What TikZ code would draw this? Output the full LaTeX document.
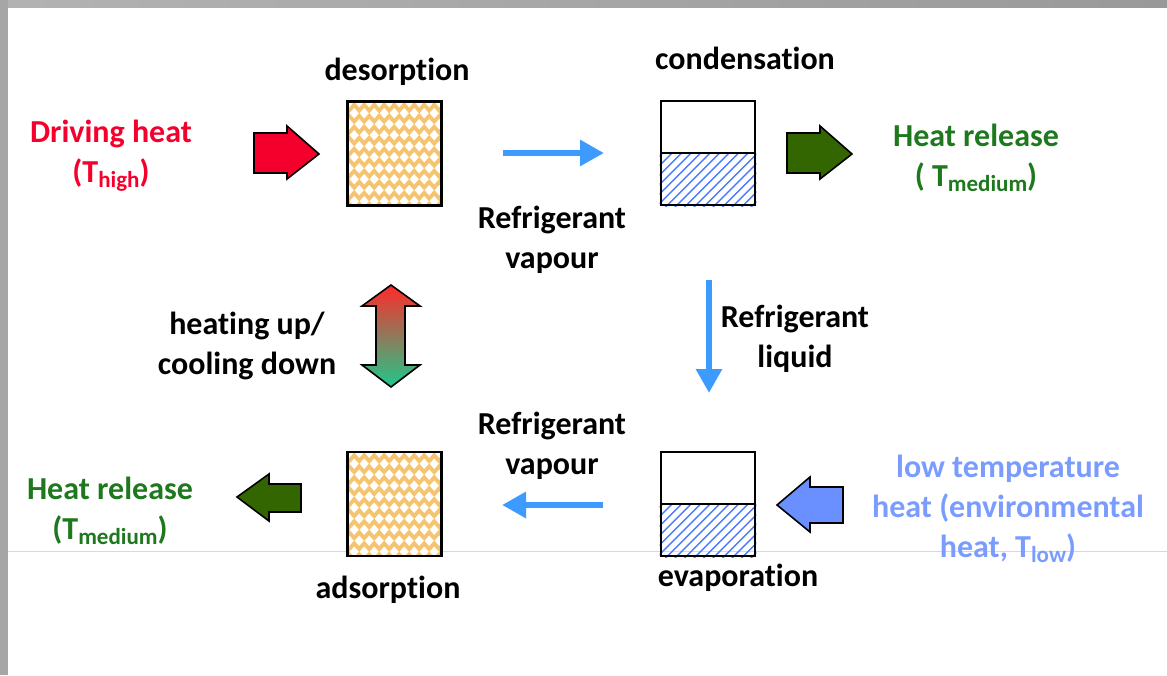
\documentclass[tikz,border=0pt]{standalone}
\usepackage{fontspec}
\setmainfont{Carlito}[Ligatures=NoCommon]
\usetikzlibrary{calc,arrows.meta}
\definecolor{hotred}{HTML}{F5002D}
\definecolor{darkgrn}{HTML}{336600}
\definecolor{txtgrn}{HTML}{1E781E}
\definecolor{liteblue}{HTML}{6A8FFF}
\definecolor{txtblue}{HTML}{7B9CFF}
\definecolor{flowblue}{HTML}{3D9BFF}
\definecolor{sorb}{HTML}{F6C46E}
\definecolor{hatchblue}{HTML}{4A7BFF}
\definecolor{gradtop}{HTML}{FF2A2A}
\definecolor{gradbot}{HTML}{1FC98A}
\tikzset{
  lbl/.style={font=\fontsize{32}{40}\selectfont\bfseries, align=center, inner sep=0pt},
  vessel/.style={draw=black, line width=2.6pt, minimum width=94pt, minimum height=104pt, inner sep=0pt},
  flow/.style={draw=flowblue, line width=6.5pt, -{Triangle[length=24pt,width=25pt]}},
  block/.style={line width=1.6pt, draw=black, line join=miter},
}
\newcommand{\sub}[1]{\raisebox{-0.35ex}{\fontsize{23}{26}\selectfont #1}}
\newcommand{\diamondfill}[1]{%
  \begin{scope}
    \clip (#1.south west) rectangle (#1.north east);
    \fill[sorb] (#1.south west) rectangle (#1.north east);
    \foreach \j in {0,...,10}{
      \pgfmathsetmacro{\off}{mod(\j,2)*5}
      \foreach \i in {-1,...,10}{
      \fill[white] ($(#1.north west)+(\i*10+\off+3,\j*11+2)$) +(-4.6,0) -- +(0,-5.2) -- +(4.6,0) -- +(0,5.2) -- cycle;
    }}
  \end{scope}}
\newcommand{\hatchfill}[2]{%
  \begin{scope}
    \clip (#1) rectangle (#2);
    \foreach \k in {-7,...,12}{
      \draw[hatchblue, line width=1.4pt] ($(#1)+(\k*9.5,60)$) -- ++(60,-60);
    }
  \end{scope}}
\begin{document}
\begin{tikzpicture}[x=1pt,y=-1pt]
\useasboundingbox (0,0) rectangle (1167,675);
% frame
\shade[left color=gray!60, right color=gray!120!black] (0,0) rectangle (1167,7);
\fill[gray!70] (0,0) rectangle (8,675);
\draw[black!15, line width=0.8pt] (8,551) -- (1167,551);

% sorbent boxes
\node[vessel] (des) at (394.5,153.5) {};
\diamondfill{des}
\node[vessel] (des2) at (394.5,153.5) {};
\node[vessel] (ads) at (394.5,504) {};
\diamondfill{ads}
\node[vessel] (ads2) at (394.5,504) {};

% condenser / evaporator
\node[vessel] (con) at (708,153) {};
\hatchfill{con.west}{con.south east}
\node[vessel] (con2) at (708,153) {};
\draw[line width=2.6pt] (con.west) -- (con.east);
\node[vessel] (eva) at (708,504) {};
\hatchfill{eva.west}{eva.south east}
\node[vessel] (eva2) at (708,504) {};
\draw[line width=2.6pt] (eva.west) -- (eva.east);

% labels
\node[lbl] (tdes) at (397,72) {desorption};
\node[lbl] (tcon) at (745,58) {condensation};
\node[lbl] (tads) at (388,590) {adsorption};
\node[lbl] (teva) at (738,578) {evaporation};
\node[lbl, text=hotred] (tdrv) at (111,156) {Driving heat\\(T\sub{high})};
\node[lbl, text=txtgrn] (thr1) at (976,158) {Heat release\\( T\sub{medium})};
\node[lbl, text=txtgrn] (thr2) at (110,511) {Heat release\\(T\sub{medium})};
\node[lbl, text=txtblue] (tlow) at (1008,509) {low temperature\\heat (environmental\\heat, T\sub{low})};
\node[lbl] (tv1) at (552,240) {Refrigerant\\vapour};
\node[lbl] (tv2) at (552,446) {Refrigerant\\vapour};
\node[lbl] (tliq) at (795,339) {Refrigerant\\liquid};
\node[lbl] (theat) at (247,346) {heating up/\\cooling down};

% flow arrows
\coordinate (f1a) at (503,153); \coordinate (f1b) at (604,153);
\draw[flow] (f1a) -- (f1b);
\coordinate (f2a) at (709,280); \coordinate (f2b) at (709,393);
\draw[flow] (f2a) -- (f2b);
\coordinate (f3a) at (603,505); \coordinate (f3b) at (502,505);
\draw[flow] (f3a) -- (f3b);

% block arrows
\draw[block, fill=hotred] (254,133) -- (287,133) -- (287,126) -- (319,154) -- (287,179) -- (287,173) -- (254,173) -- cycle;
\draw[block, fill=darkgrn] (787,133) -- (820,133) -- (820,126) -- (852,154) -- (820,179) -- (820,173) -- (787,173) -- cycle;
\draw[block, fill=darkgrn] (301,484) -- (269,484) -- (269,474) -- (237,497) -- (269,521) -- (269,512) -- (301,512) -- cycle;
\draw[block, fill=liteblue] (843,487) -- (810,487) -- (810,477) -- (777,505) -- (810,532) -- (810,523) -- (843,523) -- cycle;
\shade[top color=gradtop, bottom color=gradbot, draw=black, line width=1.6pt]
  (391,285) -- (420,306) -- (405,306) -- (405,365) -- (420,365) -- (391,387) -- (362,365) -- (376,365) -- (376,306) -- (362,306) -- cycle;
\end{tikzpicture}
\end{document}
